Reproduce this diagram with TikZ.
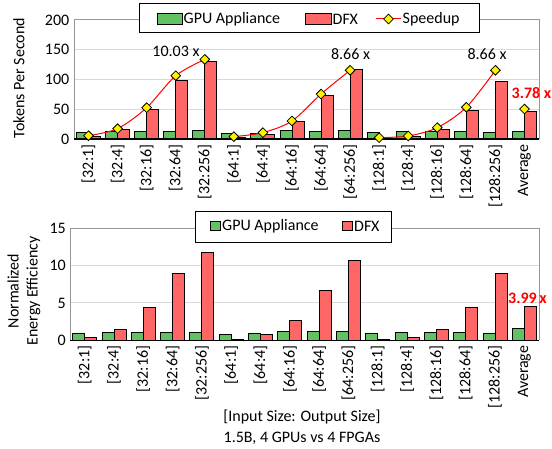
\documentclass[tikz,border=0pt]{standalone}
\usepackage{fontspec}
\setmainfont{Carlito}
\usetikzlibrary{shapes.geometric}
\definecolor{gfill}{RGB}{98,194,98}
\definecolor{rfill}{RGB}{255,102,102}
\definecolor{gridc}{RGB}{217,217,217}
\definecolor{framec}{RGB}{150,150,150}
\definecolor{mkyellow}{RGB}{255,242,0}
\definecolor{sred}{RGB}{255,0,0}
\tikzset{
  gbar/.style={draw=black, fill=gfill, line width=0.9pt},
  rbar/.style={draw=black, fill=rfill, line width=0.9pt},
  gridline/.style={draw=gridc, line width=1pt},
  frameline/.style={draw=framec, line width=1pt},
  axisline/.style={draw=black, line width=1.3pt},
  mk/.style={diamond, draw=black, fill=mkyellow, inner sep=0pt, minimum size=10pt, line width=0.8pt},
  txt/.style={font=\fontsize{16}{19}\selectfont, inner sep=0pt},
  ticklab/.style={txt, rotate=90, anchor=east},
  legbox/.style={draw=black, fill=white, line width=1pt},
}
\begin{document}
\begin{tikzpicture}[x=1pt,y=-1pt]
\useasboundingbox (0,0) rectangle (552,449);
% ================= TOP CHART =================
\foreach \v in {50,100,150}{
  \draw[gridline] (74,{139-\v*0.595}) -- (539,{139-\v*0.595});
}
\draw[frameline] (74,139) -- (74,20) -- (539,20) -- (539,139);
\foreach \v in {0,50,100,150,200}{
  \node[txt, anchor=east] (yt\v) at (69.5,{139-\v*0.595}) {\v};
}
\node[txt, rotate=90] (ytitle) at (19,78) {Tokens Per Second};
\foreach \g/\r [count=\i from 0] in {11.8/5,13.4/16.8,12.9/49.3,12.9/98,14/130,10/2.8,9/8.4,14/29,13.4/73.4,14/116.5,11.2/0.5,12.9/4.5,12.3/16.2,12.3/48.7,11.2/97.5,12.3/46}{
  \pgfmathsetmacro\cx{74+(\i+0.5)*29.0625}
  \draw[gbar] (\cx-12,139) rectangle (\cx,{139-\g*0.595});
  \draw[rbar] (\cx,139) rectangle (\cx+12,{139-\r*0.595});
}
\draw[axisline] (74,139) -- (539,139);
\foreach \lab [count=\i from 0] in {{[32:1]},{[32:4]},{[32:16]},{[32:64]},{[32:256]},{[64:1]},{[64:4]},{[64:16]},{[64:64]},{[64:256]},{[128:1]},{[128:4]},{[128:16]},{[128:64]},{[128:256]},{Average}}{
  \pgfmathsetmacro\cx{74+(\i+0.5)*29.0625}
  \node[ticklab] (xt\i) at (\cx,144.5) {\lab};
}
% speedup lines
\draw[sred, line width=1pt] plot[smooth, tension=0.5] coordinates {(88.53,135.67) (117.59,128.69) (146.66,107.67) (175.72,75.69) (204.78,59.43)};
\draw[sred, line width=1pt] plot[smooth, tension=0.5] coordinates {(233.84,136.62) (262.91,132.65) (291.97,120.99) (321.03,94.02) (350.09,70.30)};
\draw[sred, line width=1pt] plot[smooth, tension=0.5] coordinates {(379.16,137.65) (408.22,135.99) (437.28,127.66) (466.34,107.27) (495.41,70.30)};
\foreach \x/\y [count=\i] in {88.53/135.67,117.59/128.69,146.66/107.67,175.72/75.69,204.78/59.43,233.84/136.62,262.91/132.65,291.97/120.99,321.03/94.02,350.09/70.30,379.16/137.65,408.22/135.99,437.28/127.66,466.34/107.27,495.41/70.30,524.47/109.01}{
  \node[mk] (m\i) at (\x,\y) {};
}
\node[txt] (l1) at (176,51) {10.03 x};
\node[txt] (l2) at (350.5,54) {8.66 x};
\node[txt] (l3) at (487,54) {8.66 x};
\node[txt, text=sred, font=\fontsize{16}{19}\selectfont\bfseries] (l4) at (531.5,93) {3.78 x};
% legend top
\draw[legbox] (139,4) rectangle (479,33);
\draw[gbar] (157,13.3) rectangle (182,24);
\node[txt, anchor=west] (lg1) at (183.5,19) {GPU Appliance};
\draw[rbar] (305.5,13.3) rectangle (331,24);
\node[txt, anchor=west] (lg2) at (332.5,19) {DFX};
\coordinate (sl1) at (376,19);
\coordinate (sl2) at (401,19);
\draw[sred, line width=1pt] (sl1) -- (sl2);
\node[mk] (lgm) at (388.5,19) {};
\node[txt, anchor=west] (lg3) at (402.5,19) {Speedup};
% ================= BOTTOM CHART =================
\foreach \v in {5,10}{
  \draw[gridline] (70,{340.3-\v*7.467}) -- (539,{340.3-\v*7.467});
}
\draw[frameline] (70,340.3) -- (70,228.3) -- (539,228.3) -- (539,340.3);
\foreach \v in {0,5,10,15}{
  \node[txt, anchor=east] (yb\v) at (66,{340.3-\v*7.467}) {\v};
}
\node[txt, rotate=90, align=center] (ytitle2) at (24,291) {Normalized\\Energy Efficiency};
\foreach \g/\r [count=\i from 0] in {0.94/0.36,1.07/1.47,1.07/4.42,1.03/8.93,1.07/11.83,0.8/0.13,0.94/0.76,1.16/2.68,1.12/6.7,1.16/10.67,0.94/0.09,1.07/0.4,1.03/1.47,1.07/4.42,0.94/8.93,1.56/4.55}{
  \pgfmathsetmacro\cx{70+(\i+0.5)*29.3125}
  \draw[gbar] (\cx-12,340.3) rectangle (\cx,{340.3-\g*7.467});
  \draw[rbar] (\cx,340.3) rectangle (\cx+12,{340.3-\r*7.467});
}
\draw[axisline] (70,340.3) -- (539,340.3);
\foreach \lab [count=\i from 0] in {{[32:1]},{[32:4]},{[32:16]},{[32:64]},{[32:256]},{[64:1]},{[64:4]},{[64:16]},{[64:64]},{[64:256]},{[128:1]},{[128:4]},{[128:16]},{[128:64]},{[128:256]},{Average}}{
  \pgfmathsetmacro\cx{70+(\i+0.5)*29.3125}
  \node[ticklab] (xb\i) at (\cx,345.5) {\lab};
}
\node[txt, text=sred, font=\fontsize{16}{19}\selectfont\bfseries] (l5) at (527.5,298) {3.99\,x};
% legend bottom
\draw[legbox] (195.3,211.5) rectangle (391.3,242.3);
\draw[gbar] (210,221.7) rectangle (220,230.7);
\node[txt, anchor=west] (lb1) at (222,226.5) {GPU Appliance};
\draw[rbar] (342,221.7) rectangle (352,230.7);
\node[txt, anchor=west] (lb2) at (354,226.5) {DFX};
% captions
\node[txt] (c1) at (302,417) {[Input Size: Output Size]};
\node[txt] (c2) at (302,438) {1.5B, 4 GPUs vs 4 FPGAs};
\end{tikzpicture}
\end{document}
